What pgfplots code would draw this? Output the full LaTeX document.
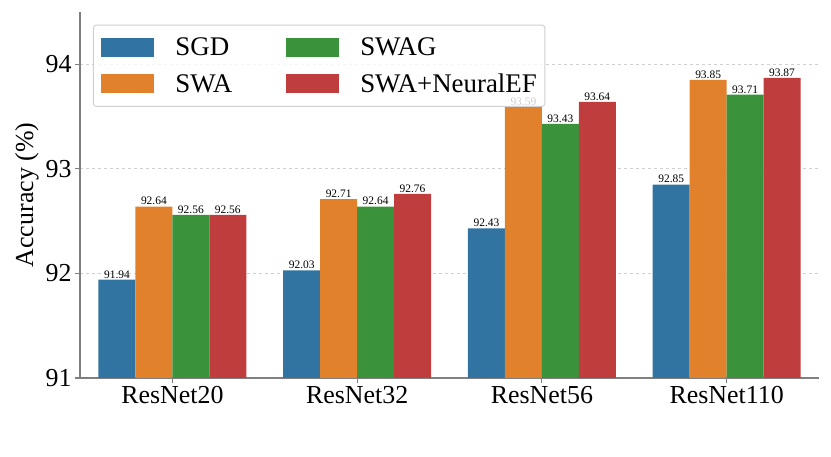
\documentclass[border=0pt]{standalone}
\usepackage{fontspec}
\setmainfont{Liberation Serif}
\usepackage{pgfplots}
\pgfplotsset{compat=1.18}
\definecolor{cSGD}{HTML}{3274A1}
\definecolor{cSWA}{HTML}{E1812C}
\definecolor{cSWAG}{HTML}{3A923A}
\definecolor{cNEF}{HTML}{C03D3E}
\definecolor{spine}{HTML}{7F7F7F}
\definecolor{gridc}{HTML}{D0D0D0}
\begin{document}
\begin{tikzpicture}
\begin{axis}[
  scale only axis, width=739bp, height=366bp,
  xmin=-0.5, xmax=3.5, ymin=91, ymax=94.5,
  axis lines=left, axis line style={-, draw=spine, line width=1.2bp},
  xtick={0,1,2,3}, xticklabels={ResNet20,ResNet32,ResNet56,ResNet110},
  ytick={91,92,93,94},
  tick align=outside, major tick length=5bp,
  tick style={draw=spine, line width=1.2bp},
  ymajorgrids, grid style={dashed, draw=gridc, line width=1bp},
  ticklabel style={font=\fontsize{26}{30}\selectfont},
  /pgf/number format/assume math mode=true,
  ylabel={Accuracy (\%)},
  label style={font=\fontsize{26}{30}\selectfont},
  nodes near coords={\pgfmathprintnumber[fixed,fixed zerofill,precision=2,assume math mode=true]{\pgfplotspointmeta}},
  every node near coord/.append style={font=\fontsize{11.5}{13}\selectfont, inner sep=1.2bp, black},
  legend columns=2, transpose legend,
  legend style={at={(0,1)}, anchor=north west, xshift=13bp, yshift=-12.5bp,
    draw=gridc, line width=1bp, rounded corners=3bp,
    fill=white, fill opacity=0.8, text opacity=1,
    font=\fontsize{27}{31}\selectfont,
    inner xsep=8bp, inner ysep=8.5bp, row sep=9bp,
    nodes={inner xsep=0bp, inner ysep=4bp},
    /tikz/every odd column/.style={column sep=21bp},
    /tikz/every even column/.style={column sep=54bp}},
  legend cell align=left,
]
\addplot[ybar, bar width=0.2, bar shift=0, fill=cSGD, draw=none,
  legend image code/.code={\fill[cSGD, fill opacity=1, sharp corners] (0bp,-9.5bp) rectangle (53bp,9.5bp);}]
  coordinates {(-0.3,91.94) (0.7,92.03) (1.7,92.43) (2.7,92.85)};
\addlegendentry{SGD}
\addplot[ybar, bar width=0.2, bar shift=0, fill=cSWA, draw=none,
  legend image code/.code={\fill[cSWA, fill opacity=1, sharp corners] (0bp,-9.5bp) rectangle (53bp,9.5bp);}]
  coordinates {(-0.1,92.64) (0.9,92.71) (1.9,93.59) (2.9,93.85)};
\addlegendentry{SWA}
\addplot[ybar, bar width=0.2, bar shift=0, fill=cSWAG, draw=none,
  legend image code/.code={\fill[cSWAG, fill opacity=1, sharp corners] (0bp,-9.5bp) rectangle (53bp,9.5bp);}]
  coordinates {(0.1,92.56) (1.1,92.64) (2.1,93.43) (3.1,93.71)};
\addlegendentry{SWAG}
\addplot[ybar, bar width=0.2, bar shift=0, fill=cNEF, draw=none,
  legend image code/.code={\fill[cNEF, fill opacity=1, sharp corners] (0bp,-9.5bp) rectangle (53bp,9.5bp);}]
  coordinates {(0.3,92.56) (1.3,92.76) (2.3,93.64) (3.3,93.87)};
\addlegendentry{SWA+NeuralEF}
\end{axis}
\path[use as bounding box] (-80bp,-79bp) rectangle (751bp,378bp);
\end{tikzpicture}
\end{document}
